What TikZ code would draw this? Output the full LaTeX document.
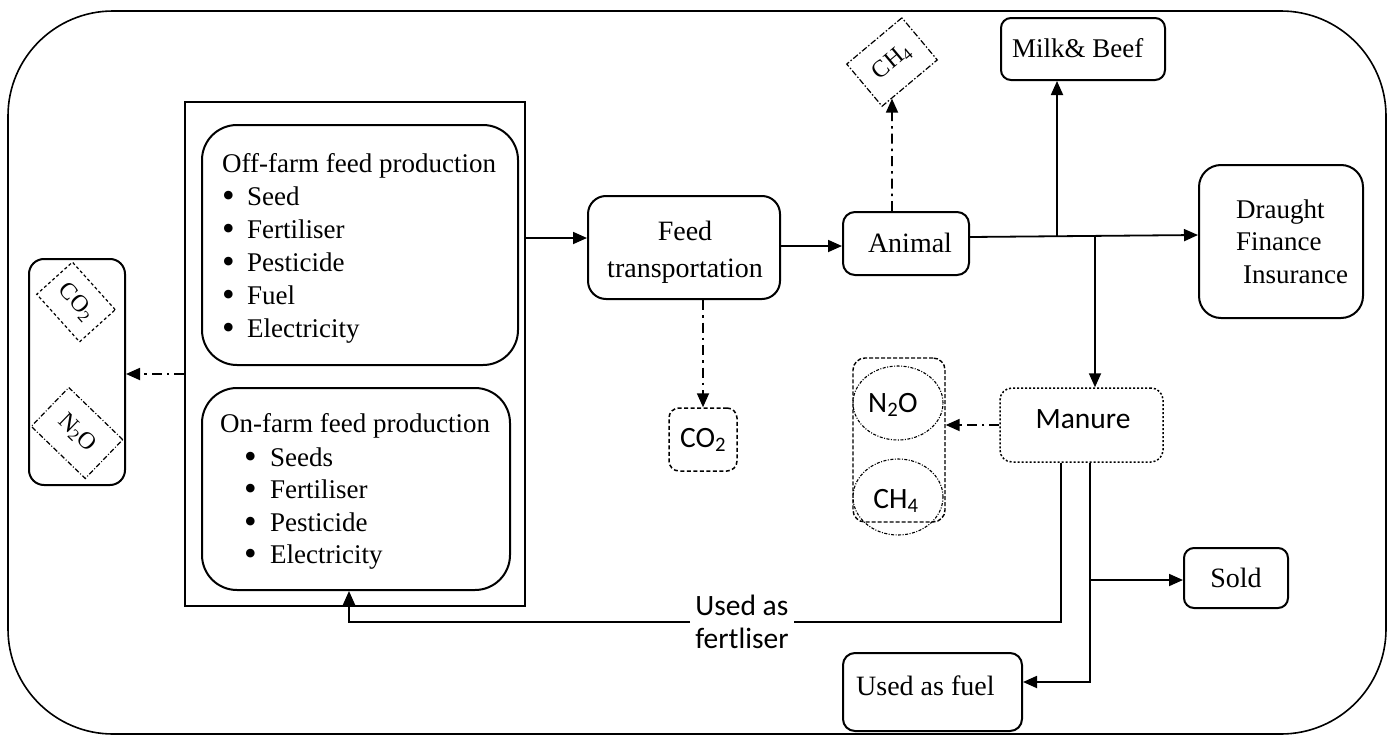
\documentclass[tikz,border=0pt]{standalone}
\usepackage{fontspec}
\setmainfont{Liberation Serif}
\newfontfamily\carl{Carlito}
\usetikzlibrary{arrows.meta,calc,shapes.geometric}
\begin{document}
\begin{tikzpicture}[x=1pt,y=-1pt,
  every node/.style={font=\fontsize{27}{33}\selectfont, inner sep=0pt},
  rbox/.style={draw, line width=2pt, rounded corners=#1},
  txt/.style={anchor=base west},
  ctxt/.style={anchor=base},
  big/.style={font=\fontsize{28}{34}\selectfont},
  bul/.style={anchor=base west, font=\fontsize{36}{36}\selectfont},
  sans/.style={font=\carl\fontsize{29.5}{33}\selectfont},
  gas/.style={draw, line width=1.2pt, font=\fontsize{24}{28}\selectfont},
  flow/.style={line width=1.8pt, -{Triangle[length=14pt,width=12pt]}},
  gflow/.style={flow, dash pattern=on 10pt off 5pt on 2.5pt off 5pt},
  plain/.style={line width=1.8pt}]
\useasboundingbox (0,0) rectangle (1393,736);
\draw[line width=1.6pt, rounded corners=105] (8,11) rectangle (1386,734);

% feed production group
\node[draw, line width=2pt, minimum width=340, minimum height=504] (feedouter) at (355,354) {};
\node[rbox=35, minimum width=316, minimum height=240] (off) at (360,245) {};
\node[rbox=35, minimum width=308, minimum height=202] (on) at (356,489) {};
\node[txt] (offt) at (222,172) {Off-farm feed production};
\foreach \y/\t [count=\i] in {205/Seed,238/Fertiliser,271/Pesticide,304/Fuel,337/Electricity}{
  \node[bul] (offb\i) at (222,\y+2) {\textbullet};
  \node[txt] (offi\i) at (247,\y) {\t};}
\node[txt] (ont) at (220,432) {On-farm feed production};
\foreach \y/\t [count=\i] in {466/Seeds,498/Fertiliser,531/Pesticide,563/Electricity}{
  \node[bul] (onb\i) at (244,\y+2) {\textbullet};
  \node[txt] (oni\i) at (270,\y) {\t};}

% left emissions
\node[rbox=15, minimum width=96, minimum height=226] (gasl) at (77,372) {};
\node[gas, dash pattern=on 3pt off 2.5pt, rotate=-48, minimum width=64, minimum height=48] (co2l) at (76,302) {CO\textsubscript{2}};
\node[gas, dash pattern=on 5pt off 2pt on 1pt off 2pt, rotate=-44, minimum width=75, minimum height=54] (n2ol) at (77,433) {N\textsubscript{2}O};

% feed transportation
\node[rbox=18, minimum width=192, minimum height=103] (feedtr) at (684,247.5) {};
\node[ctxt, big] (feedt1) at (685,240) {Feed};
\node[ctxt, big] (feedt2) at (685,277) {transportation};
\node[draw, line width=1.5pt, dash pattern=on 4pt off 2.5pt, rounded corners=10, minimum width=68, minimum height=63] (co2b) at (703,439.5) {};
\node[ctxt, sans] (co2bt) at (703,447) {CO\textsubscript{2}};

% animal
\node[rbox=12, minimum width=126, minimum height=63] (animal) at (906,243.5) {};
\node[ctxt, big] (animalt) at (910,252) {Animal};
\node[gas, dash pattern=on 6pt off 2pt on 1.5pt off 2pt, rotate=40, minimum width=72, minimum height=55] (ch4t) at (892,62) {CH\textsubscript{4}};
\node[rbox=10, minimum width=164, minimum height=62] (milk) at (1083,49) {};
\node[txt] (milkt) at (1012,57) {Milk\& Beef};
\node[rbox=22, minimum width=164, minimum height=153] (draught) at (1281,241.5) {};
\node[txt] (dr1) at (1236,218) {Draught};
\node[txt] (dr2) at (1236,250) {Finance};
\node[txt] (dr3) at (1243,283) {Insurance};

% manure
\node[draw, line width=1.5pt, dash pattern=on 2pt off 2pt, rounded corners=12, minimum width=163, minimum height=74] (manure) at (1081.5,425) {};
\node[ctxt, sans] (manuret) at (1083,428) {Manure};
\node[draw, line width=1.4pt, dash pattern=on 4pt off 2pt, rounded corners=12, minimum width=92, minimum height=164] (gasm) at (899,440) {};
\node[draw, ellipse, line width=1.1pt, dash pattern=on 3pt off 1.5pt on 1pt off 1.5pt, minimum width=90, minimum height=74] (n2oe) at (898,403) {};
\node[ctxt, sans] (n2oet) at (893,412) {N\textsubscript{2}O};
\node[draw, ellipse, line width=1.1pt, dash pattern=on 3pt off 1.5pt on 1pt off 1.5pt, minimum width=90, minimum height=76] (ch4e) at (898,497) {};
\node[ctxt, sans] (ch4et) at (896,508) {CH\textsubscript{4}};
\node[rbox=10, minimum width=104, minimum height=60] (sold) at (1236,578) {};
\node[ctxt, big] (soldt) at (1236,587) {Sold};
\node[rbox=12, minimum width=179, minimum height=78] (fuel) at (932.5,692) {};
\node[txt, big] (fuelt) at (856,695) {Used as fuel};
\node[sans, align=left, inner xsep=5pt] (fert) at (742,622) {Used as\\fertliser};

% connectors
\draw[gflow] (feedouter.west |- 0,374) -- (gasl.east |- 0,374);
\draw[flow] (feedouter.east |- 0,238) -- (feedtr.west |- 0,238);
\draw[flow] (feedtr.east |- 0,246) -- (animal.west |- 0,246);
\draw[gflow] (animal.north -| ch4t) -- (ch4t);
\draw[gflow] (feedtr.south -| co2b) -- (co2b.north);
\coordinate (j1) at (1057,236);
\coordinate (j2) at (1095,236);
\coordinate (j3) at (1090,580);
\draw[flow] (animal.east |- 0,237) -- (draught.west |- 0,235);
\draw[flow] (j1) -- (milk.south -| j1);
\draw[flow] (j2) -- (manure.north -| j2);
\draw[gflow] (manure.west) -- (gasm.east |- manure.west);
\draw[plain] (manure.south -| 1061,0) |- (fert.east);
\draw[flow] (fert.west) -| (on.south -| 349,0);
\draw[flow] (manure.south -| 1090,0) |- (fuel.east |- 0,682);
\draw[flow] (j3) -- (sold.west |- j3);
\end{tikzpicture}
\end{document}
